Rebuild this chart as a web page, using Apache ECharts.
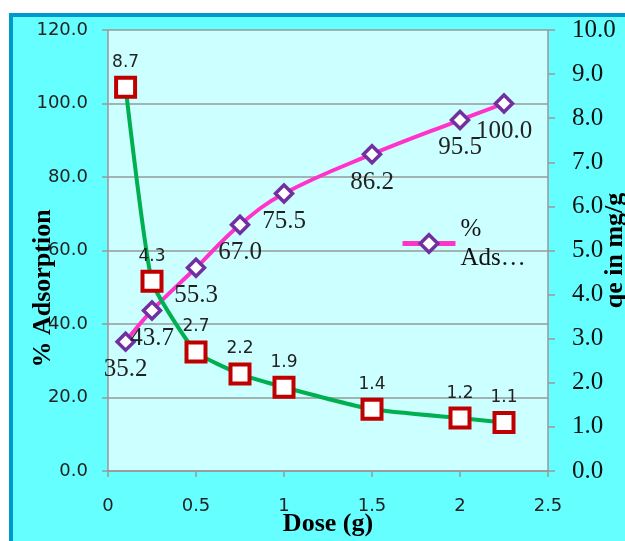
<!DOCTYPE html>
<html>
<head>
<meta charset="utf-8">
<script src="https://cdn.jsdelivr.net/npm/echarts@6/dist/echarts.min.js"></script>
<style>
  html, body { margin: 0; padding: 0; background: #ffffff; }
  #chart { width: 625px; height: 541px; }
</style>
</head>
<body>
<div id="chart"></div>
<script>
// Adsorbent dose (g)
const doses = [0.1, 0.25, 0.5, 0.75, 1, 1.5, 2, 2.25];
// Percentage adsorption at each dose
const adsorption = [35.2, 43.7, 55.3, 67.0, 75.5, 86.2, 95.5, 100.0];
// Adsorption capacity qe (mg/g) at each dose
const qe = [8.7, 4.3, 2.7, 2.2, 1.9, 1.4, 1.2, 1.1];

const SERIF = '"Liberation Serif", "DejaVu Serif", serif';
const SANS = '"DejaVu Sans", sans-serif';

const toPairs = (xs, ys) => xs.map((x, i) => [x, ys[i]]);

const chart = echarts.init(document.getElementById('chart'), null, { renderer: 'canvas' });

chart.setOption({
  backgroundColor: '#ffffff',
  animation: false,
  graphic: {
    elements: [{
      type: 'rect',
      silent: true,
      z: -100,
      shape: { x: 11, y: 15, width: 700, height: 600 },
      style: { fill: '#66FFFF', stroke: '#0099CC', lineWidth: 4 }
    }]
  },
  grid: {
    left: 108, right: 77, top: 30, bottom: 70,
    outerBoundsMode: 'none',
    containLabel: false,
    show: true, backgroundColor: '#CCFFFF', borderWidth: 0
  },
  legend: {
    data: ['% Ads'],
    left: 400, top: 200, padding: 0,
    itemWidth: 53, itemHeight: 22, itemGap: 4,
    formatter: () => '%\nAds…',
    lineStyle: { width: 5 },
    itemStyle: { borderWidth: 3.5 },
    textStyle: {
      fontFamily: SERIF, fontSize: 25, color: '#111',
      lineHeight: 29, padding: [29, 0, 0, 0]
    }
  },
  xAxis: {
    type: 'value', min: 0, max: 2.5, interval: 0.5,
    name: 'Dose (g)', nameLocation: 'middle', nameGap: 40,
    nameMoveOverlap: false,
    nameTextStyle: { fontFamily: SERIF, fontSize: 26, fontWeight: 'bold', color: '#000' },
    axisLine: { lineStyle: { color: '#999', width: 1.5 } },
    axisTick: { show: true, length: 6, lineStyle: { color: '#999', width: 1.5 } },
    axisLabel: { fontFamily: SANS, fontSize: 18, color: '#222', margin: 26 },
    splitLine: { show: false }
  },
  yAxis: [{
    type: 'value', position: 'left', min: 0, max: 120, interval: 20,
    name: '% Adsorption', nameLocation: 'middle', nameRotate: 90, nameGap: 52,
    nameMoveOverlap: false,
    nameTextStyle: {
      fontFamily: SERIF, fontSize: 26, fontWeight: 'bold', color: '#000',
      padding: [0, 76, 0, 0]
    },
    axisLine: { show: true, lineStyle: { color: '#999', width: 1.5 } },
    axisTick: { show: true, length: 6, lineStyle: { color: '#999', width: 1.5 } },
    axisLabel: {
      fontFamily: SANS, fontSize: 18, color: '#222', margin: 20,
      formatter: v => v.toFixed(1)
    },
    splitLine: { show: true, lineStyle: { color: '#999', width: 1.5 } }
  }, {
    type: 'value', position: 'right', min: 0, max: 10, interval: 1,
    name: 'qe in mg/g', nameLocation: 'middle', nameRotate: 90, nameGap: 54,
    nameMoveOverlap: false,
    nameTextStyle: { fontFamily: SERIF, fontSize: 26, fontWeight: 'bold', color: '#000' },
    axisLine: { show: true, lineStyle: { color: '#999', width: 1.5 } },
    axisTick: { show: true, length: 7, lineStyle: { color: '#999', width: 1.5 } },
    axisLabel: {
      fontFamily: SERIF, fontSize: 25, color: '#111', margin: 24,
      formatter: v => v.toFixed(1)
    },
    splitLine: { show: false }
  }],
  series: [{
    name: '% Ads',
    type: 'line',
    yAxisIndex: 0,
    data: toPairs(doses, adsorption),
    smooth: 0.4,
    lineStyle: { color: '#FF33CC', width: 4 },
    symbol: 'diamond',
    symbolSize: 17,
    itemStyle: { color: '#ffffff', borderColor: '#7030A0', borderWidth: 3.5 },
    label: {
      show: true, position: 'bottom', distance: 5,
      fontFamily: SERIF, fontSize: 25, color: '#222',
      formatter: p => p.value[1].toFixed(1)
    },
    z: 2
  }, {
    name: 'qe',
    type: 'line',
    yAxisIndex: 1,
    data: toPairs(doses, qe),
    smooth: 0.15,
    lineStyle: { color: '#00B050', width: 4 },
    symbol: 'rect',
    symbolSize: 19,
    itemStyle: { color: '#ffffff', borderColor: '#C00000', borderWidth: 4 },
    label: {
      show: true, position: 'top', distance: 5,
      fontFamily: SANS, fontSize: 17, color: '#222',
      formatter: p => p.value[1].toFixed(1)
    },
    z: 3
  }]
});
</script>
</body>
</html>
